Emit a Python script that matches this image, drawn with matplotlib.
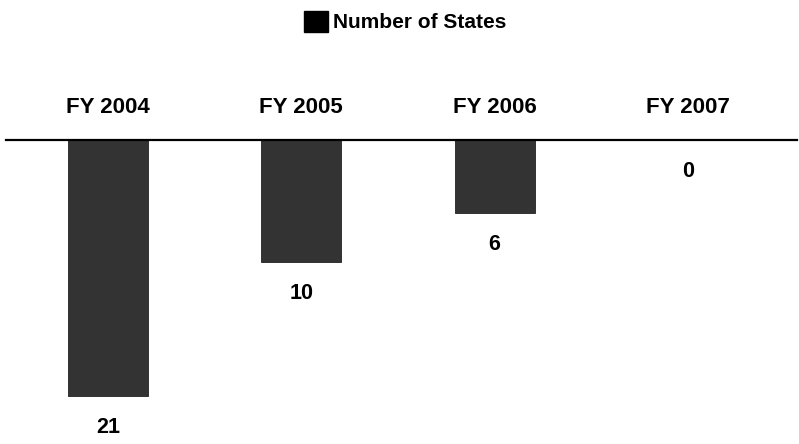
import matplotlib
matplotlib.use("Agg")
import matplotlib.pyplot as plt
from matplotlib.patches import Patch

# chart data
years = ["FY 2004", "FY 2005", "FY 2006", "FY 2007"]
num_states = [21, 10, 6, 0]
series_name = "Number of States"

plt.rcParams['font.family'] = ['Liberation Sans', 'DejaVu Sans']
plt.rcParams['font.weight'] = 'bold'

fig = plt.figure(figsize=(7.99, 4.44), dpi=100)
ax = fig.add_axes([0, 0, 1, 1])

xs = list(range(len(years)))
ax.bar(xs, [-v for v in num_states], width=0.414, color="#333333",
       edgecolor="#222222", linewidth=0.6, zorder=2)

# baseline the bars hang from
ax.axhline(0, xmin=0.008, xmax=0.998, color="black", linewidth=1.6, zorder=3)

for x, year in zip(xs, years):
    ax.text(x, 2.68, year, ha="center", va="center", fontsize=16, fontweight="bold")

for x, v in zip(xs, num_states):
    ax.annotate(str(v), (x, -v), xytext=(0, -15), textcoords="offset points",
                ha="center", va="top", fontsize=15.5, fontweight="bold")

ax.set_xlim(-0.560, 3.576)
ax.set_ylim(-24.94, 11.48)
ax.axis("off")

fig.legend(handles=[Patch(facecolor="black", edgecolor="black")], labels=[series_name],
           loc="center", bbox_to_anchor=(0.507, 0.952), frameon=False,
           handlelength=1.18, handleheight=1.18, handletextpad=0.25,
           borderpad=0.2, prop={"weight": "bold", "size": 15})

fig.savefig("out.png", dpi=100)
